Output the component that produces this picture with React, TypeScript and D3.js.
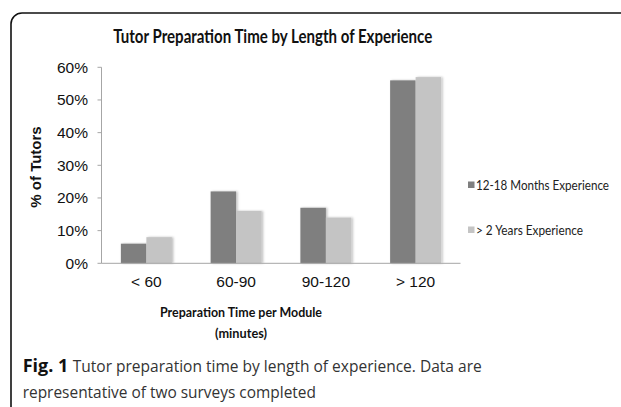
import React from "react";
import * as d3 from "d3";

const categories = ["< 60", "60-90", "90-120", "> 120"];
const seriesNames = ["12-18 Months Experience", "> 2 Years Experience"];
const months12to18 = [6, 22, 17, 56];
const years2plus = [8, 16, 14, 57];
const yTicks = [0, 10, 20, 30, 40, 50, 60];
const colors = ["#7f7f7f", "#c4c4c4"];

export default function App() {
  const W = 621, H = 407;
  const left = 101.5, right = 460.5, top = 67.3, bottom = 263.3;
  const y = d3.scaleLinear().domain([0, 60]).range([bottom, top]);
  const x0 = d3.scaleBand<string>().domain(categories).range([left, right]).padding(0);
  const x1 = d3.scaleBand<string>().domain(seriesNames).range([0, x0.bandwidth()]).paddingInner(0).paddingOuter(0.76);
  const series = [months12to18, years2plus];
  const calibri = "Lato, 'Open Sans', sans-serif";
  const arial = "'Liberation Sans', Arial, sans-serif";
  const caption = "'Open Sans', 'Noto Sans', sans-serif";
  return (
    <svg width={W} height={H} style={{ position: "absolute", left: 0, top: 0, background: "#fff" }}>
      <defs>
        <filter id="sh" x="-20%" y="-5%" width="150%" height="110%">
          <feDropShadow dx="1.5" dy="0" stdDeviation="0.8" floodColor="#000" floodOpacity="0.25" />
        </filter>
      </defs>
      <rect x={0} y={0} width={W} height={H} fill="#fff" />
      <rect x={11} y={13} width={700} height={500} rx={11} ry={11} fill="none" stroke="#111" strokeWidth={1.6} />
      <text x={272.7} y={43} textAnchor="middle" fontFamily={calibri} fontWeight="bold" fontSize={18} fill="#111"
        textLength={319} lengthAdjust="spacingAndGlyphs">Tutor Preparation Time by Length of Experience</text>
      {/* y axis */}
      <line x1={left} x2={left} y1={top} y2={bottom} stroke="#a6a6a6" strokeWidth={1} />
      {yTicks.map((t) => (
        <g key={t}>
          <line x1={left - 4} x2={left} y1={y(t)} y2={y(t)} stroke="#a6a6a6" />
          <text x={88} y={y(t) + 5.5} textAnchor="end" fontFamily={arial} fontSize={15.5} fill="#111">{t}%</text>
        </g>
      ))}
      <text transform={`translate(41,167) rotate(-90)`} textAnchor="middle" fontFamily={arial} fontWeight="bold" fontSize={15} fill="#111">% of Tutors</text>
      {/* bars */}
      {categories.map((c, i) => (
        <g key={c}>
          {series.map((s, j) => (
            <rect key={j} x={(x0(c) ?? 0) + (x1(seriesNames[j]) ?? 0)} y={y(s[i])} width={x1.bandwidth()}
              height={bottom - y(s[i])} fill={colors[j]} filter="url(#sh)" />
          ))}
          <text x={(x0(c) ?? 0) + x0.bandwidth() / 2} y={287} textAnchor="middle" fontFamily={arial} fontSize={15.5} fill="#111">{c}</text>
        </g>
      ))}
      <line x1={left} x2={right} y1={bottom} y2={bottom} stroke="#a6a6a6" strokeWidth={1} />
      {/* x title */}
      <text x={241} y={317} textAnchor="middle" fontFamily={calibri} fontWeight="bold" fontSize={14} fill="#111"
        textLength={162} lengthAdjust="spacingAndGlyphs">Preparation Time per Module</text>
      <text x={241} y={338} textAnchor="middle" fontFamily={calibri} fontWeight="bold" fontSize={14} fill="#111"
        textLength={52} lengthAdjust="spacingAndGlyphs">(minutes)</text>
      {/* legend */}
      {seriesNames.map((n, j) => (
        <g key={n}>
          <rect x={468} y={181.5 + j * 45} width={6.5} height={6.5} fill={colors[j]} />
          <text x={476} y={189.5 + j * 45} fontFamily={calibri} fontSize={12.5} fill="#222"
            textLength={j === 0 ? 133 : 107} lengthAdjust="spacingAndGlyphs">{n}</text>
        </g>
      ))}
      {/* caption */}
      <text x={22.7} y={372} fontFamily={caption} fontWeight="bold" fontSize={17} fill="#111"
        textLength={45.6} lengthAdjust="spacingAndGlyphs">Fig. 1</text>
      <text x={72.7} y={372} fontFamily={caption} fontSize={17} fill="#333"
        textLength={409} lengthAdjust="spacingAndGlyphs">Tutor preparation time by length of experience. Data are</text>
      <text x={22.7} y={398} fontFamily={caption} fontSize={17} fill="#333"
        textLength={293.3} lengthAdjust="spacingAndGlyphs">representative of two surveys completed</text>
    </svg>
  );
}
